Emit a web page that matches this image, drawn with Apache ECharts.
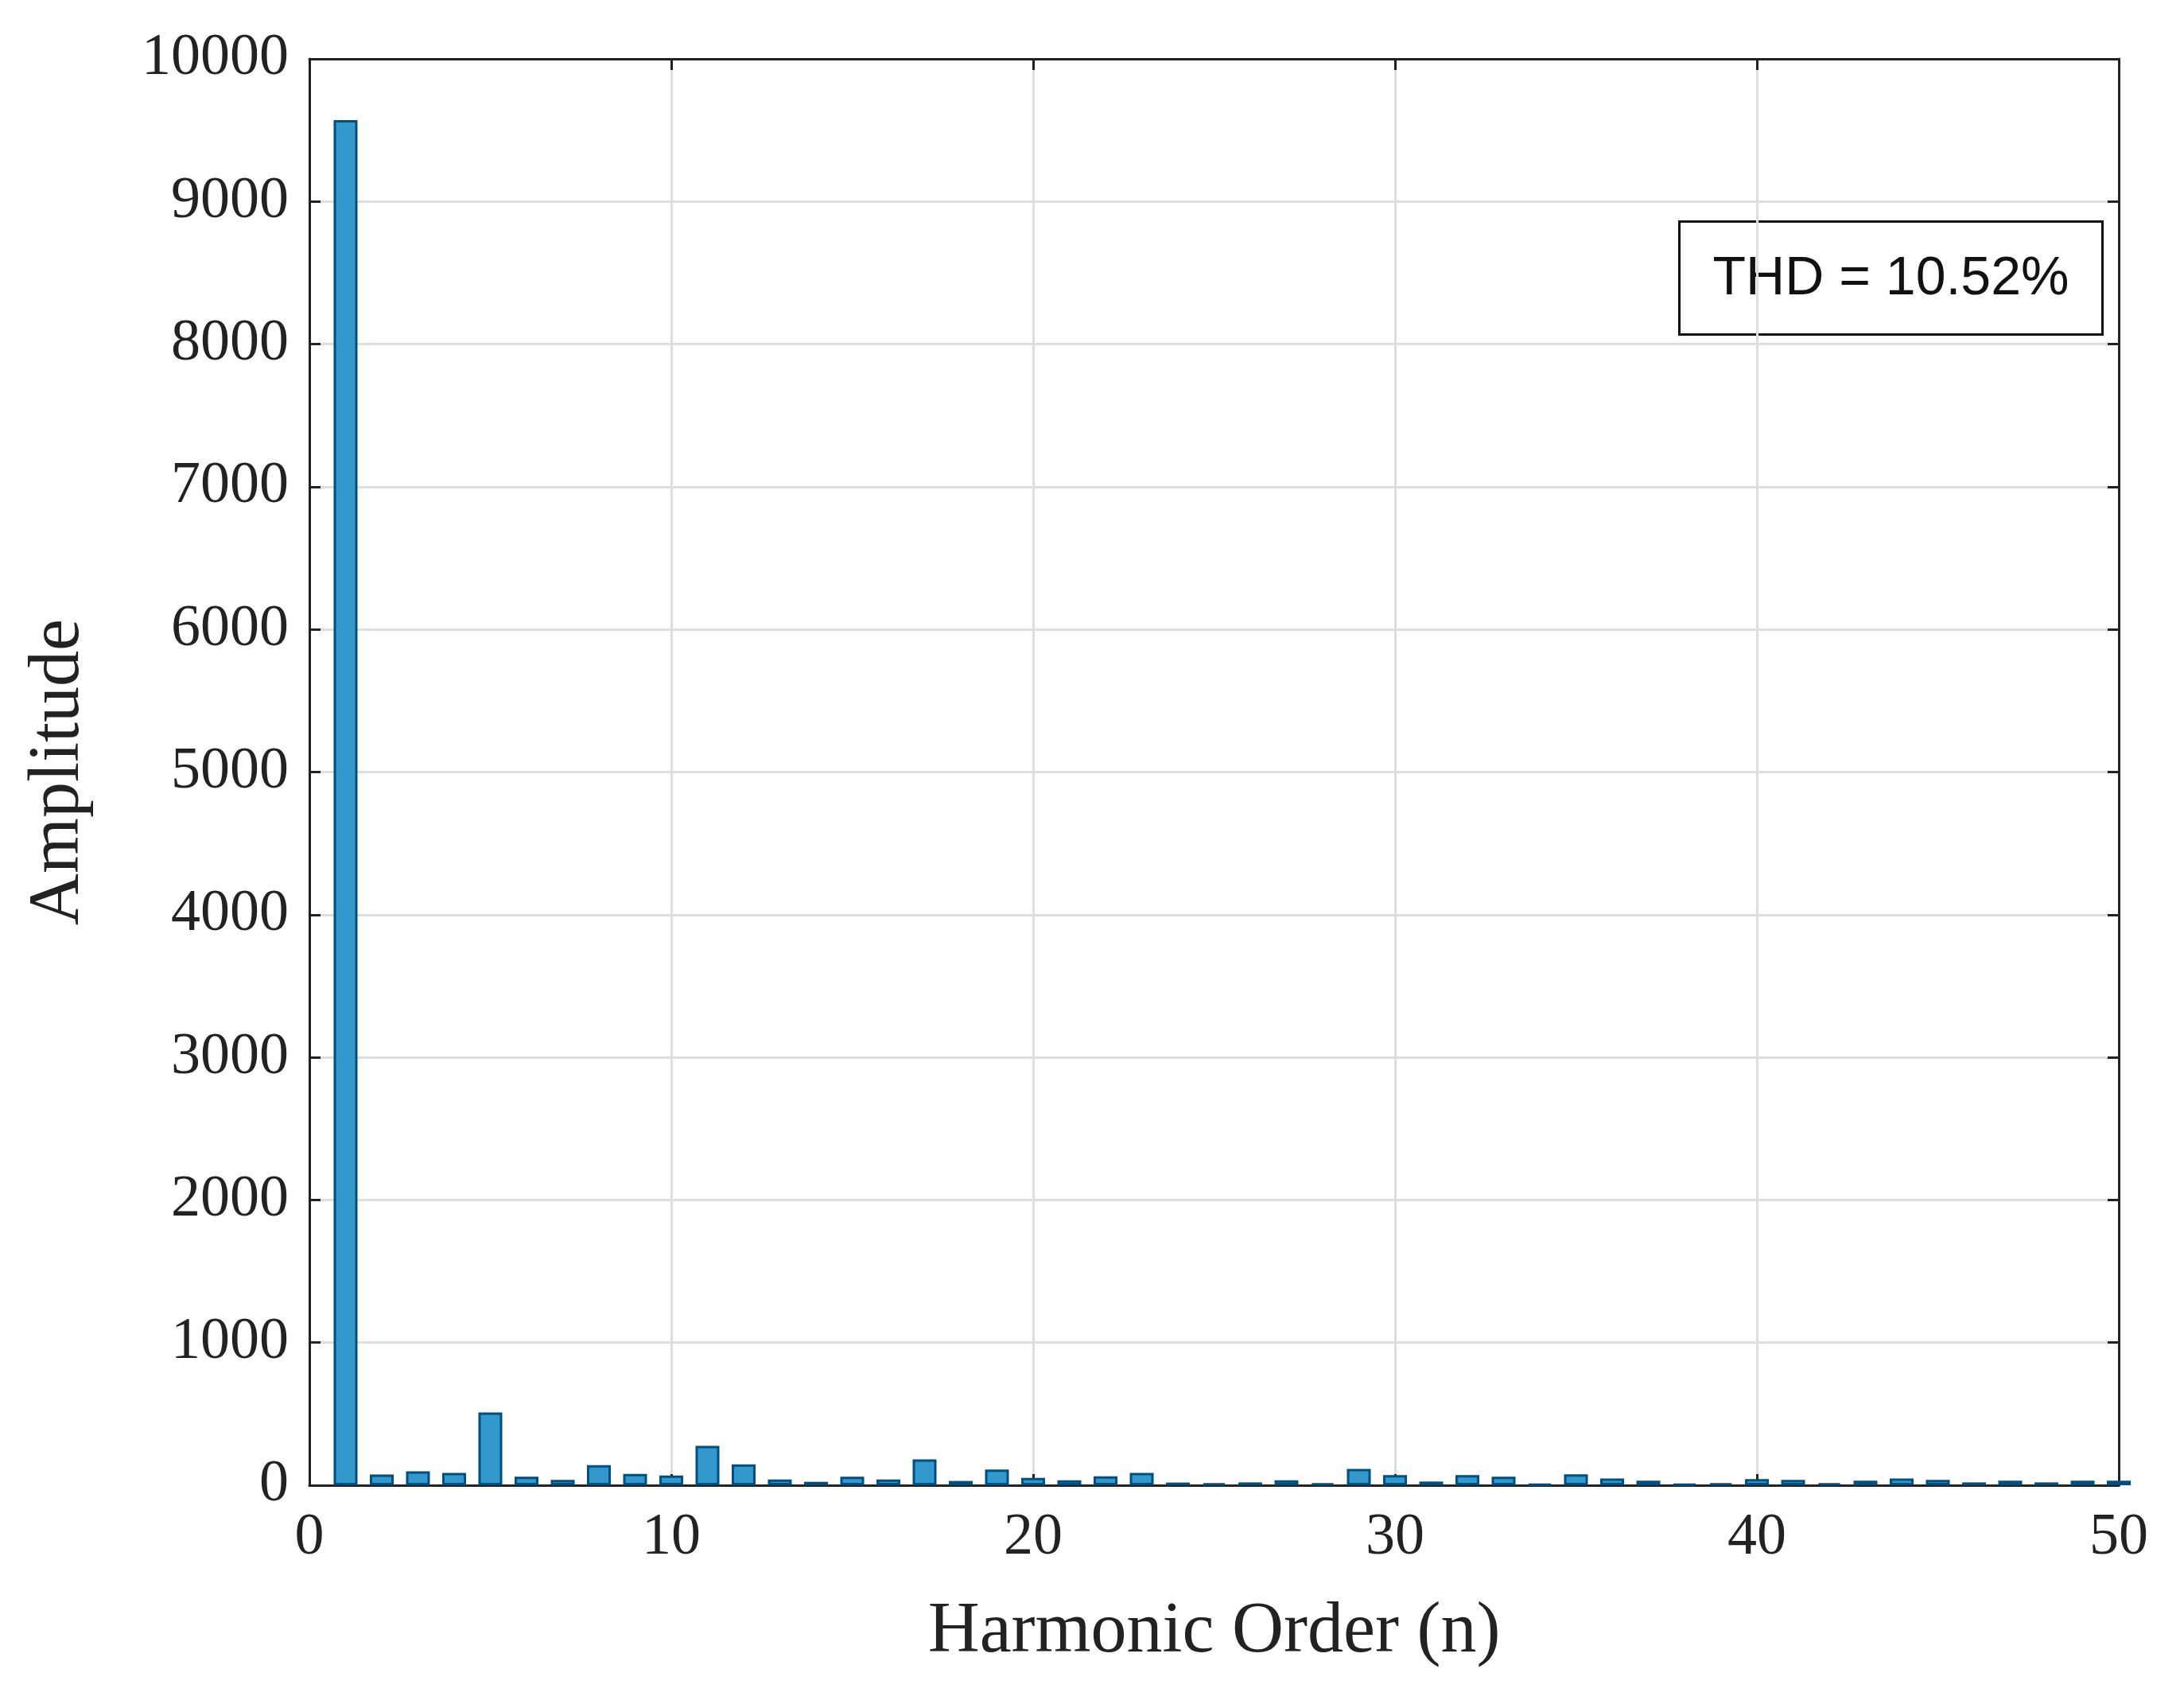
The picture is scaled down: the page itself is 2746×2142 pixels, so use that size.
<!DOCTYPE html>
<html><head><meta charset="utf-8">
<script src="https://cdn.jsdelivr.net/npm/echarts@6/dist/echarts.min.js"></script>
<style>html,body{margin:0;padding:0;background:#fff}#c{width:2746px;height:2142px}</style>
</head><body><div id="c"></div>
<script>
const orders = [1,2,3,4,5,6,7,8,9,10,11,12,13,14,15,16,17,18,19,20,21,22,23,24,25,26,27,28,29,30,31,32,33,34,35,36,37,38,39,40,41,42,43,44,45,46,47,48,49,50];
const amplitudes = [9570,75,97,86,510,60,37,141,80,69,276,147,41,24,60,41,181,30,110,52,35,63,86,19,15,20,35,15,115,71,26,71,60,9,76,48,32,9,15,43,37,15,32,48,37,20,32,20,32,32];
const thdText = 'THD = 10.52%';

const serif = 'Liberation Serif';
const axisCommon = {
  min: 0, axisLine: {show: true, onZero: false, lineStyle: {color: '#222', width: 3}},
  axisTick: {show: true, inside: true, length: 14, lineStyle: {color: '#222', width: 3}},
};
const chart = echarts.init(document.getElementById('c'));
chart.setOption({
  backgroundColor: '#fff',
  animation: false,
  grid: {left: 389, right: 82, top: 74, bottom: 275},
  xAxis: [
    Object.assign({}, axisCommon, {type: 'value', max: 50, interval: 10,
      name: 'Harmonic Order (n)', nameLocation: 'middle', nameGap: 140,
      nameTextStyle: {fontFamily: serif, fontSize: 90, color: '#222'},
      axisLabel: {fontFamily: serif, fontSize: 74, color: '#222', margin: 30, formatter: v => String(v)},
      splitLine: {show: true, lineStyle: {color: '#dedede', width: 3}}}),
    Object.assign({}, axisCommon, {type: 'value', position: 'top', max: 50, interval: 10,
      axisLabel: {show: false}, splitLine: {show: false}})
  ],
  yAxis: [
    Object.assign({}, axisCommon, {type: 'value', max: 10000, interval: 1000,
      name: 'Amplitude', nameLocation: 'middle', nameGap: 270,
      nameTextStyle: {fontFamily: serif, fontSize: 90, color: '#222'},
      axisLabel: {fontFamily: serif, fontSize: 74, color: '#222', margin: 26, formatter: v => String(v)},
      splitLine: {show: true, lineStyle: {color: '#dedede', width: 3}}}),
    Object.assign({}, axisCommon, {type: 'value', position: 'right', max: 10000, interval: 1000,
      axisLabel: {show: false}, splitLine: {show: false}})
  ],
  series: [{
    type: 'bar', xAxisIndex: 0, yAxisIndex: 0, barWidth: 30,
    data: orders.map((n, i) => [n, amplitudes[i]]),
    itemStyle: {color: '#3399cc', borderColor: '#004f80', borderWidth: 3},
    clip: true
  }],
  graphic: [{
    type: 'group', left: 2110, top: 277,
    children: [
      {type: 'rect', shape: {x: 0, y: 0, width: 532, height: 142},
       style: {fill: '#fff', stroke: '#111', lineWidth: 3}},
      {type: 'text', x: 266, y: 73,
       style: {text: thdText, font: '68px "Liberation Sans"', fill: '#111', align: 'center', verticalAlign: 'middle'}}
    ]
  }]
});
</script></body></html>
